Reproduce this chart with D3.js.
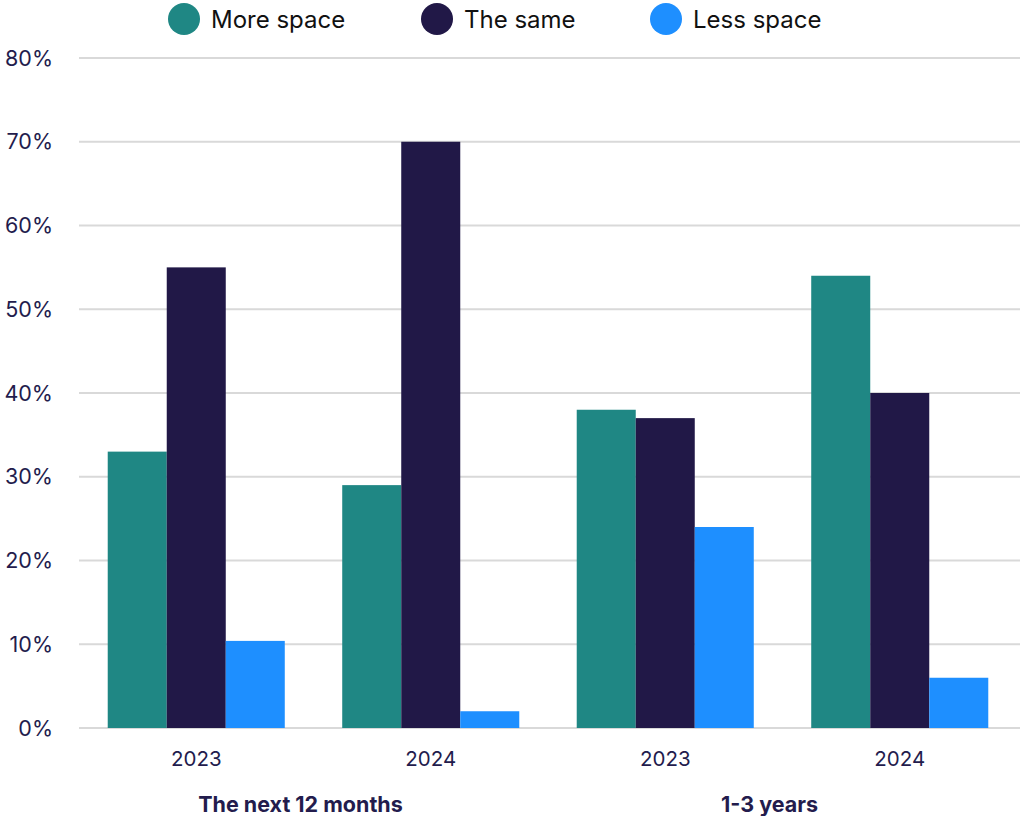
<!DOCTYPE html>
<html>
<head>
<meta charset="utf-8">
<script src="https://cdn.jsdelivr.net/npm/d3@7"></script>
<style>
  html, body { margin: 0; padding: 0; background: #fff; }
  svg { display: block; font-family: Inter, "Noto Sans", sans-serif; }
</style>
</head>
<body>
<svg id="chart" width="1020" height="816"></svg>
<script>
// Survey answers: how much office space respondents expect to need
const periods = ["The next 12 months", "1-3 years"];
const years = ["2023", "2024"];
const seriesNames = ["More space", "The same", "Less space"];
const seriesColors = ["#1f8784", "#211847", "#1e8fff"];
const moreSpace = [33, 29, 38, 54];
const theSame = [55, 70, 37, 40];
const lessSpace = [10.4, 2, 24, 6];
const yTicks = [0, 10, 20, 30, 40, 50, 60, 70, 80];

const groups = [];
periods.forEach(p => years.forEach(y => groups.push({ period: p, year: y, key: p + "|" + y })));
const seriesValues = [moreSpace, theSame, lessSpace];

const svg = d3.select("#chart");
const plotLeft = 79, plotRight = 1017, plotTop = 58, plotBottom = 728;

const x0 = d3.scaleBand()
  .domain(groups.map(g => g.key))
  .range([plotLeft, plotRight])
  .paddingInner(0.245)
  .paddingOuter(0.1225);
const x1 = d3.scaleBand()
  .domain(seriesNames)
  .range([0, x0.bandwidth()]);
const y = d3.scaleLinear().domain([0, 80]).range([plotBottom, plotTop]);

// Gridlines
svg.append("g")
  .selectAll("line")
  .data(yTicks)
  .join("line")
  .attr("x1", plotLeft).attr("x2", 1020)
  .attr("y1", d => y(d)).attr("y2", d => y(d))
  .attr("stroke", "#d9d9d9")
  .attr("stroke-width", 2);

// Y axis labels
svg.append("g")
  .selectAll("text")
  .data(yTicks)
  .join("text")
  .attr("x", 53)
  .attr("y", d => y(d))
  .attr("dy", "0.36em")
  .attr("text-anchor", "end")
  .attr("fill", "#231c4d")
  .attr("font-size", 21.5)
  .text(d => d + "%");

// Bars
const gGroups = svg.append("g")
  .selectAll("g")
  .data(groups)
  .join("g")
  .attr("transform", g => `translate(${x0(g.key)},0)`);

gGroups.selectAll("rect")
  .data((g, gi) => seriesNames.map((s, si) => ({ s, si, v: seriesValues[si][gi] })))
  .join("rect")
  .attr("x", d => x1(d.s))
  .attr("width", x1.bandwidth())
  .attr("y", d => y(d.v))
  .attr("height", d => y(0) - y(d.v))
  .attr("fill", d => seriesColors[d.si]);

// Year labels under each group
gGroups.append("text")
  .attr("x", x0.bandwidth() / 2)
  .attr("y", 766)
  .attr("text-anchor", "middle")
  .attr("fill", "#231c4d")
  .attr("font-size", 20.5)
  .text(g => g.year);

// Period labels
svg.append("g")
  .selectAll("text")
  .data(periods)
  .join("text")
  .attr("x", p => {
    const ks = groups.filter(g => g.period === p).map(g => x0(g.key) + x0.bandwidth() / 2);
    return d3.mean(ks) - 13;
  })
  .attr("y", 812)
  .attr("text-anchor", "middle")
  .attr("fill", "#231c4d")
  .attr("font-size", 21.5)
  .attr("font-weight", "bold")
  .text(p => p);

// Legend
const legendX = [184, 437, 666];
const legend = svg.append("g")
  .selectAll("g")
  .data(seriesNames)
  .join("g")
  .attr("transform", (d, i) => `translate(${legendX[i]},19)`);
legend.append("circle")
  .attr("r", 16)
  .attr("fill", (d, i) => seriesColors[i]);
legend.append("text")
  .attr("x", 27)
  .attr("dy", "0.36em")
  .attr("fill", "#111")
  .attr("font-size", 24)
  .text(d => d);
</script>
</body>
</html>
